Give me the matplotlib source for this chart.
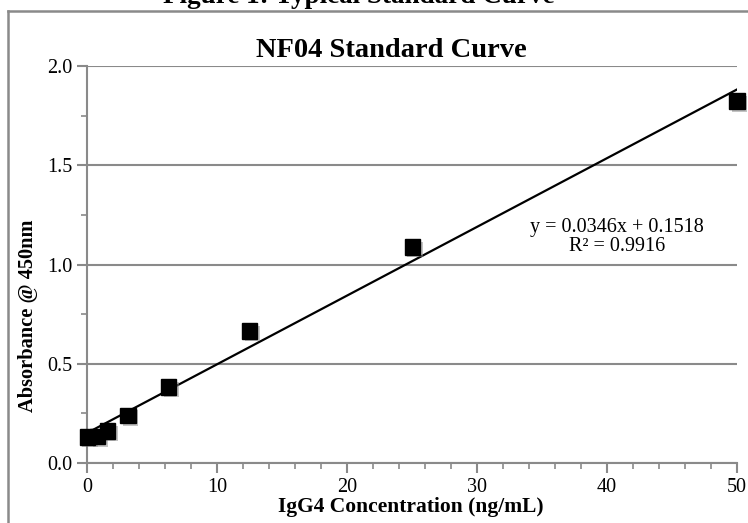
import matplotlib.pyplot as plt
import matplotlib.patheffects as pe
from matplotlib.lines import Line2D
from matplotlib.ticker import MultipleLocator
import numpy as np

plt.rcParams['font.family'] = ['Liberation Serif', 'DejaVu Serif']

# standard concentrations (ng/mL) and measured absorbance
conc = [0, 0.78, 1.5625, 3.125, 6.25, 12.5, 25, 50]
absorb = [0.131, 0.135, 0.161, 0.240, 0.383, 0.665, 1.088, 1.823]

# linear fit reported on the chart
slope = 0.0346
intercept = 0.1518
r2 = 0.9916

W, H = 748, 523
fig = plt.figure(figsize=(W / 100, H / 100), dpi=100)

# outer frame (only top and left edges visible)
grey = '#8a8a8a'
fig.add_artist(Line2D([8 / W, 1.0], [1 - 11 / H, 1 - 11 / H], color=grey, lw=1.8,
                      transform=fig.transFigure))
fig.add_artist(Line2D([8 / W, 8 / W], [1 - 11 / H, 0.0], color=grey, lw=1.8,
                      transform=fig.transFigure))

# page caption above the chart, mostly cut off
fig.text(359 / W, 1 - 3 / H, 'Figure 1: Typical Standard Curve', ha='center',
         va='baseline', fontsize=19.5, fontweight='bold')

ax = fig.add_axes([87.3 / W, 1 - 463 / H, (737 - 87.3) / W, (463 - 66) / H])

xs = np.array([0, 50])
ax.plot(xs, slope * xs + intercept, color='black', lw=1.6, zorder=3)
ax.plot(conc, absorb, 's', color='black', markersize=11, zorder=4, clip_on=False,
        path_effects=[pe.SimplePatchShadow(offset=(2, -2), shadow_rgbFace='#888888', alpha=0.5),
                      pe.Normal()])

ax.set_xlim(0, 50)
ax.set_ylim(0, 2.0)
ax.xaxis.set_major_locator(MultipleLocator(10))
ax.xaxis.set_minor_locator(MultipleLocator(2))
ax.yaxis.set_major_locator(MultipleLocator(0.5))
ax.yaxis.set_minor_locator(MultipleLocator(0.25))
ax.yaxis.set_major_formatter(plt.FormatStrFormatter('%.1f'))

ax.grid(axis='y', which='major', color=grey, lw=1.5)
ax.set_axisbelow(True)
for s in ['top', 'right']:
    ax.spines[s].set_visible(False)
for s in ['left', 'bottom']:
    ax.spines[s].set_color(grey)
    ax.spines[s].set_linewidth(1.5)

ax.tick_params(which='major', length=7, width=1.5, color=grey, labelsize=14.5, pad=4)
ax.tick_params(which='minor', length=4, width=1.2, color=grey)

# titles placed in figure pixels as in the reference
fig.text(391 / W, 1 - 57 / H, 'NF04 Standard Curve', ha='center', va='baseline',
         fontsize=20.5, fontweight='bold')
fig.text(411 / W, 1 - 512 / H, 'IgG4 Concentration (ng/mL)', ha='center', va='baseline',
         fontsize=15.5, fontweight='bold')
fig.text(28 / W, 1 - 316 / H, 'Absorbance @ 450nm', ha='center', va='center',
         rotation=90, fontsize=14.7, fontweight='bold')

eq = 'y = %.4fx + %.4f\nR² = %.4f' % (slope, intercept, r2)
ax.text(0.815, 0.57, eq, transform=ax.transAxes, ha='center', va='center',
        fontsize=14.5, linespacing=1.0)

fig.savefig('out.png', dpi=100)
